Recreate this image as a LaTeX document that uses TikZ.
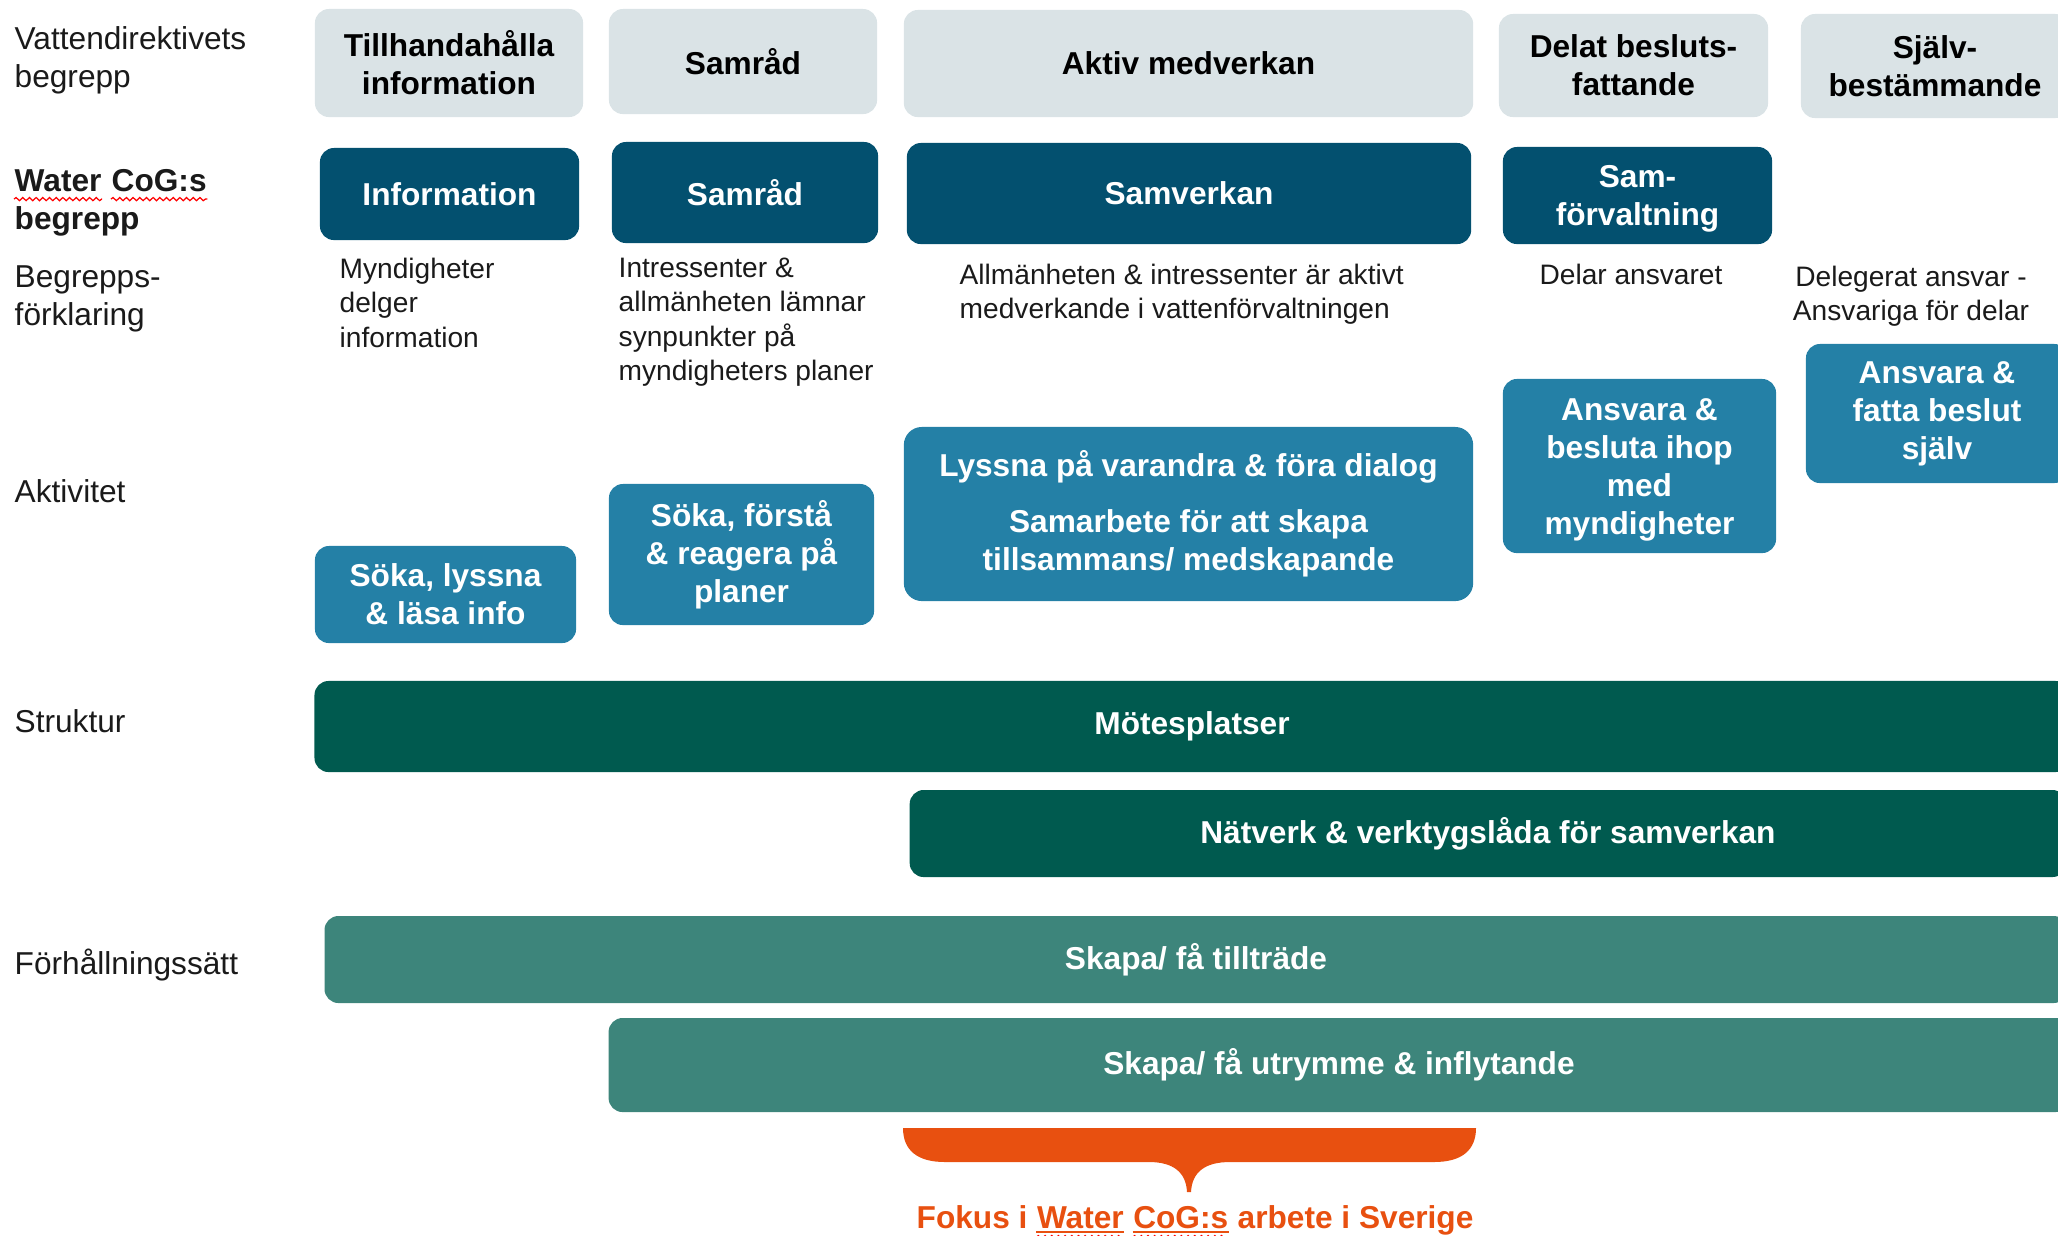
\documentclass[tikz,border=0pt]{standalone}
\usepackage{fontspec}
\setmainfont{Liberation Sans}
\usepackage{xcolor}
\usepackage{tikz}
\usetikzlibrary{decorations.pathmorphing}

\definecolor{vdgrey}{HTML}{DAE3E6}
\definecolor{cogblue}{HTML}{03506F}
\definecolor{aktblue}{HTML}{2480A6}
\definecolor{strgreen}{HTML}{005A4F}
\definecolor{fhgreen}{HTML}{3D857B}
\definecolor{fokusorange}{HTML}{E85010}
\definecolor{txtgrey}{HTML}{1A1A1A}

\begin{document}
\begin{tikzpicture}[x=0.01cm, y=-0.01cm,
    radtext/.style={inner sep=0pt, align=left, text=txtgrey, font=\fontsize{9}{10.8}\selectfont},
    forkl/.style={inner sep=0pt, text=txtgrey, font=\fontsize{8}{9.8}\selectfont},
    ruta/.style={rounded corners=0.14cm, inner sep=0pt, align=center, font=\bfseries\fontsize{9}{10.8}\selectfont},
    vdruta/.style={ruta, fill=vdgrey, text=black},
    cogruta/.style={ruta, fill=cogblue, text=white},
    aktruta/.style={ruta, fill=aktblue, text=white},
    strruta/.style={ruta, fill=strgreen, text=white},
    fhruta/.style={ruta, fill=fhgreen, text=white},
    ord/.style={inner sep=0pt, anchor=base west},
    stavfel/.style={red, line width=0.35pt, decorate, decoration={snake, amplitude=0.45pt, segment length=1.9pt}}]
                \useasboundingbox (0,0) rectangle (2058,1235);
                \clip (0,0) rectangle (2058,1235);

                \node[radtext, anchor=north west] (rad1) at (14,26) {Vattendirektivets\\begrepp};
                \node[ord, text=txtgrey, font=\bfseries\fontsize{9}{10.8}\selectfont] (rad2a) at (14,191) {Water};
                \node[ord, text=txtgrey, font=\bfseries\fontsize{9}{10.8}\selectfont] (rad2b) at ([xshift=2.5pt]rad2a.base east) {CoG:s};
                \node[ord, text=txtgrey, font=\bfseries\fontsize{9}{10.8}\selectfont] (rad2c) at (14,229) {begrepp};
                \draw[stavfel] ([yshift=-2.3pt]rad2a.base west) -- ([yshift=-2.3pt]rad2a.base east);
                \draw[stavfel] ([yshift=-2.3pt]rad2b.base west) -- ([yshift=-2.3pt]rad2b.base east);
                \node[radtext, anchor=north west] (rad3) at (14,265) {Begrepps-\\förklaring};
                \node[radtext, anchor=base west] (rad4) at (14,502) {Aktivitet};
                \node[radtext, anchor=base west] (rad5) at (14,732) {Struktur};
                \node[radtext, anchor=base west] (rad6) at (14,974) {Förhållningssätt};

                \node[vdruta, minimum width=2.68cm, minimum height=1.08cm] (vd1) at (449,63) {Tillhandahålla\\information};
                \node[vdruta, minimum width=2.68cm, minimum height=1.05cm] (vd2) at (743,61.5) {Samråd};
                \node[vdruta, minimum width=5.69cm, minimum height=1.07cm] (vd3) at (1188.5,63.5) {Aktiv medverkan};
                \node[vdruta, minimum width=2.69cm, minimum height=1.03cm] (vd4) at (1633.5,65.5) {Delat besluts-\\fattande};
                \node[vdruta, minimum width=2.68cm, minimum height=1.04cm] (vd5) at (1935,66) {Själv-\\bestämmande};

                \node[cogruta, minimum width=2.59cm, minimum height=0.92cm] (cog1) at (449.5,194) {Information};
                \node[cogruta, minimum width=2.66cm, minimum height=1.01cm] (cog2) at (745,192.5) {Samråd};
                \node[cogruta, minimum width=5.64cm, minimum height=1.01cm] (cog3) at (1189,193.5) {Samverkan};
                \node[cogruta, minimum width=2.69cm, minimum height=0.97cm] (cog4) at (1637.5,195.5) {\rule{0pt}{8pt}Sam-\\förvaltning};

                \node[forkl, anchor=north west, align=left] (fk1) at (339,257) {Myndigheter\\delger\\information};
                \node[forkl, anchor=north west, align=left] (fk2) at (618,257) {Intressenter \&\\allmänheten lämnar\\synpunkter på\\myndigheters planer};
                \node[forkl, anchor=north west, align=left] (fk3) at (959,263) {Allmänheten \& intressenter är aktivt\\medverkande i vattenförvaltningen};
                \node[forkl, anchor=north, align=center] (fk4) at (1631,263) {Delar ansvaret};
                \node[forkl, anchor=north, align=center] (fk5) at (1911,265) {Delegerat ansvar -\\Ansvariga för delar};

                \node[aktruta, minimum width=2.61cm, minimum height=0.97cm] (akt1) at (445.5,594.5) {Söka, lyssna\\\& läsa info};
                \node[aktruta, minimum width=2.65cm, minimum height=1.41cm] (akt2) at (741.5,554.5) {Söka, förstå\\\& reagera på\\planer};
                \node[aktruta, rounded corners=0.18cm, minimum width=5.69cm, minimum height=1.74cm] (akt3) at (1188.5,514) {Lyssna på varandra \& föra dialog\\[5pt]Samarbete för att skapa\\tillsammans/ medskapande};
                \node[aktruta, minimum width=2.73cm, minimum height=1.74cm] (akt4) at (1639.5,466) {\rule{0pt}{8.5pt}Ansvara \&\\besluta ihop\\med\\myndigheter};
                \node[aktruta, minimum width=2.62cm, minimum height=1.39cm] (akt5) at (1937,413.5) {Ansvara \&\\fatta beslut\\själv};

                \node[strruta, minimum width=17.54cm, minimum height=0.91cm] (str1) at (1192,726.5) {Mötesplatser};
                \node[strruta, minimum width=11.56cm, minimum height=0.87cm] (str2) at (1488,833.5) {Nätverk \& verktygslåda för samverkan};

                \node[fhruta, minimum width=17.42cm, minimum height=0.87cm] (fh1) at (1196,959.5) {Skapa/ få tillträde};
                \node[fhruta, minimum width=14.6cm, minimum height=0.94cm] (fh2) at (1339,1065) {Skapa/ få utrymme \& inflytande};

                \fill[fokusorange] (903,1128) -- (1476,1128) .. controls (1476,1150) and (1462,1162) .. (1434,1162) -- (1230,1162) .. controls (1205,1162) and (1192,1172) .. (1191,1192) -- (1187,1192) .. controls (1186,1172) and (1173,1162) .. (1149,1162) -- (945,1162) .. controls (917,1162) and (903,1150) .. (903,1128) -- cycle;
                \node[ord, text=fokusorange, font=\bfseries\fontsize{9}{10.8}\selectfont] (fokus1) at (916,1228) {Fokus i};
                \node[ord, text=fokusorange, font=\bfseries\fontsize{9}{10.8}\selectfont] (fokus2) at ([xshift=2.3pt]fokus1.base east) {Water};
                \node[ord, text=fokusorange, font=\bfseries\fontsize{9}{10.8}\selectfont] (fokus3) at ([xshift=2.3pt]fokus2.base east) {CoG:s};
                \node[ord, text=fokusorange, font=\bfseries\fontsize{9}{10.8}\selectfont] (fokus4) at ([xshift=2.3pt]fokus3.base east) {arbete i Sverige};
                \draw[fokusorange, line width=0.6pt] ([yshift=-1.1pt]fokus2.base west) -- ([yshift=-1.1pt]fokus2.base east);
                \draw[fokusorange, line width=0.6pt] ([yshift=-1.1pt]fokus3.base west) -- ([yshift=-1.1pt]fokus3.base east);
                \draw[stavfel] ([yshift=-2.6pt]fokus2.base west) -- ([yshift=-2.6pt]fokus2.base east);
                \draw[stavfel] ([yshift=-2.6pt]fokus3.base west) -- ([yshift=-2.6pt]fokus3.base east);
            \end{tikzpicture}
\end{document}
